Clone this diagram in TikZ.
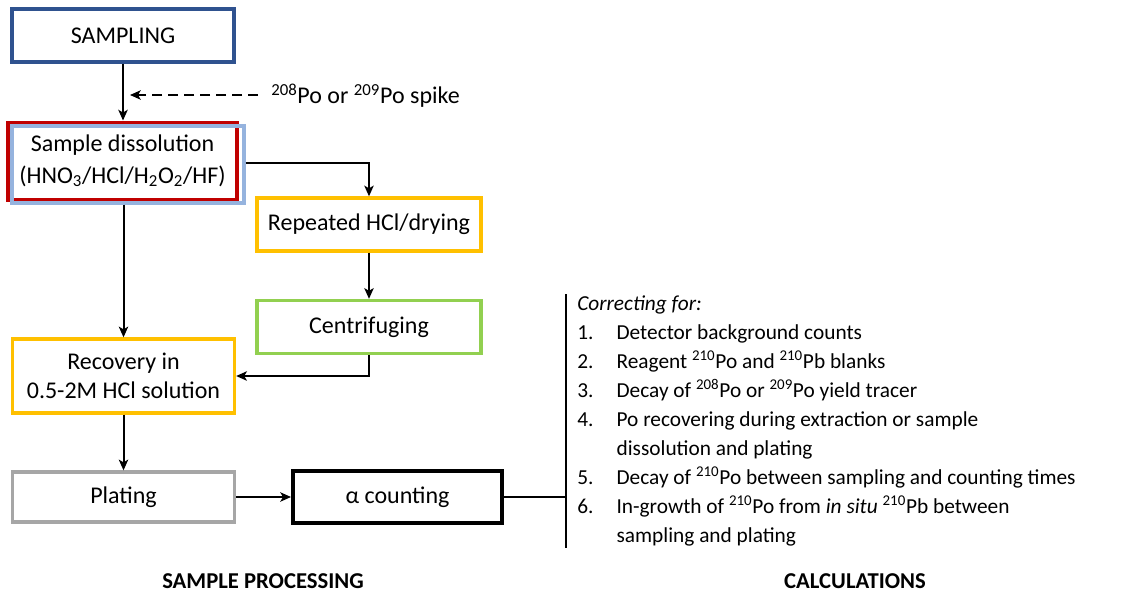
\documentclass[tikz,border=0pt]{standalone}
\usepackage{fontspec}
\setmainfont{Carlito}
\usetikzlibrary{arrows.meta}
\definecolor{sampblue}{RGB}{47,82,143}
\definecolor{dred}{RGB}{192,0,0}
\definecolor{lblue}{RGB}{149,179,222}
\definecolor{ygold}{RGB}{255,192,0}
\definecolor{lgreen}{RGB}{146,208,80}
\definecolor{mgray}{RGB}{166,166,166}
\begin{document}
\begin{tikzpicture}[x=0.75pt,y=-0.75pt,
  box/.style n args={2}{draw, line width=2.5pt, minimum width=#1*0.75pt, minimum height=#2*0.75pt,
     inner sep=0pt, align=center, font=\fontsize{18}{22}\selectfont},
  arr/.style={line width=1.5pt, -{Stealth[length=8pt,width=7pt,inset=2pt]}},
  conn/.style={line width=1.5pt},
  lbl/.style={inner sep=0pt, font=\fontsize{18}{22}\selectfont},
  head/.style={inner sep=0pt, font=\fontsize{17}{20}\selectfont\bfseries}]
\useasboundingbox (0,0) rectangle (1136,594);
% boxes
\node[box={222}{53}, draw=sampblue, line width=2.7pt] (samp) at (123,35.5) {SAMPLING};
\node[box={229}{77}, draw=dred, line width=3pt] (sdred) at (122.5,161) {Sample dissolution\\[1.5pt](HNO\textsubscript{3}/HCl/H\textsubscript{2}O\textsubscript{2}/HF)};
\node[box={232}{77}, draw=lblue] (sd) at (128,164.5) {};
\node[box={224}{53}, draw=ygold] (rep) at (369,224.5) {Repeated HCl/drying};
\node[box={224}{53}, draw=lgreen] (cen) at (369,327) {Centrifuging};
\node[box={222}{74}, draw=ygold] (rec) at (123.5,376) {Recovery in\\0.5-2M HCl solution};
\node[box={222}{50}, draw=mgray] (plat) at (123.5,497) {Plating};
\node[box={209}{52}, draw=black, line width=3pt] (alpha) at (397.5,497) {α counting};
% spike
\node[lbl, anchor=west] (spike) at (271,96) {\textsuperscript{208}Po or \textsuperscript{209}Po spike};
\coordinate (spkstart) at (258,95);
\coordinate (spktip) at (130,95);
% connectors
\draw[arr] (samp.south) -- (samp.south |- sdred.north);
\draw[arr, dash pattern=on 7.5pt off 4.5pt] (spkstart) -- (spktip);
\draw[arr] (sd.east |- 0,163) -| (rep.north);
\draw[arr] (rep.south) -- (cen.north);
\draw[arr] (cen.south) |- (rec.east);
\draw[arr] (rec.north |- sd.south) -- (rec.north);
\draw[arr] (rec.south) -- (plat.north);
\draw[arr] (plat.east) -- (alpha.west);
\coordinate (bartop) at (566,294);
\coordinate (barbot) at (566,548);
\coordinate (barmid) at (566,497);
\draw[conn] (bartop) -- (barbot);
\draw[conn] (alpha.east) -- (barmid);
% list
\node[anchor=north west, inner sep=0pt, font=\fontsize{16}{21.75}\selectfont] (list) at (577,290) {%
\begin{tabular}{@{}p{29.5pt}@{}l@{}}
\multicolumn{2}{@{}l@{}}{\itshape Correcting for:}\\
1. & Detector background counts\\
2. & Reagent \textsuperscript{210}Po and \textsuperscript{210}Pb blanks\\
3. & Decay of \textsuperscript{208}Po or \textsuperscript{209}Po yield tracer\\
4. & Po recovering during extraction or sample\\
   & dissolution and plating\\
5. & Decay of \textsuperscript{210}Po between sampling and counting times\\
6. & In-growth of \textsuperscript{210}Po from \textit{in situ} \textsuperscript{210}Pb between\\
   & sampling and plating
\end{tabular}};
% headings
\node[head] (hproc) at (263,581) {SAMPLE PROCESSING};
\node[head] (hcalc) at (855,581) {CALCULATIONS};
\end{tikzpicture}
\end{document}
